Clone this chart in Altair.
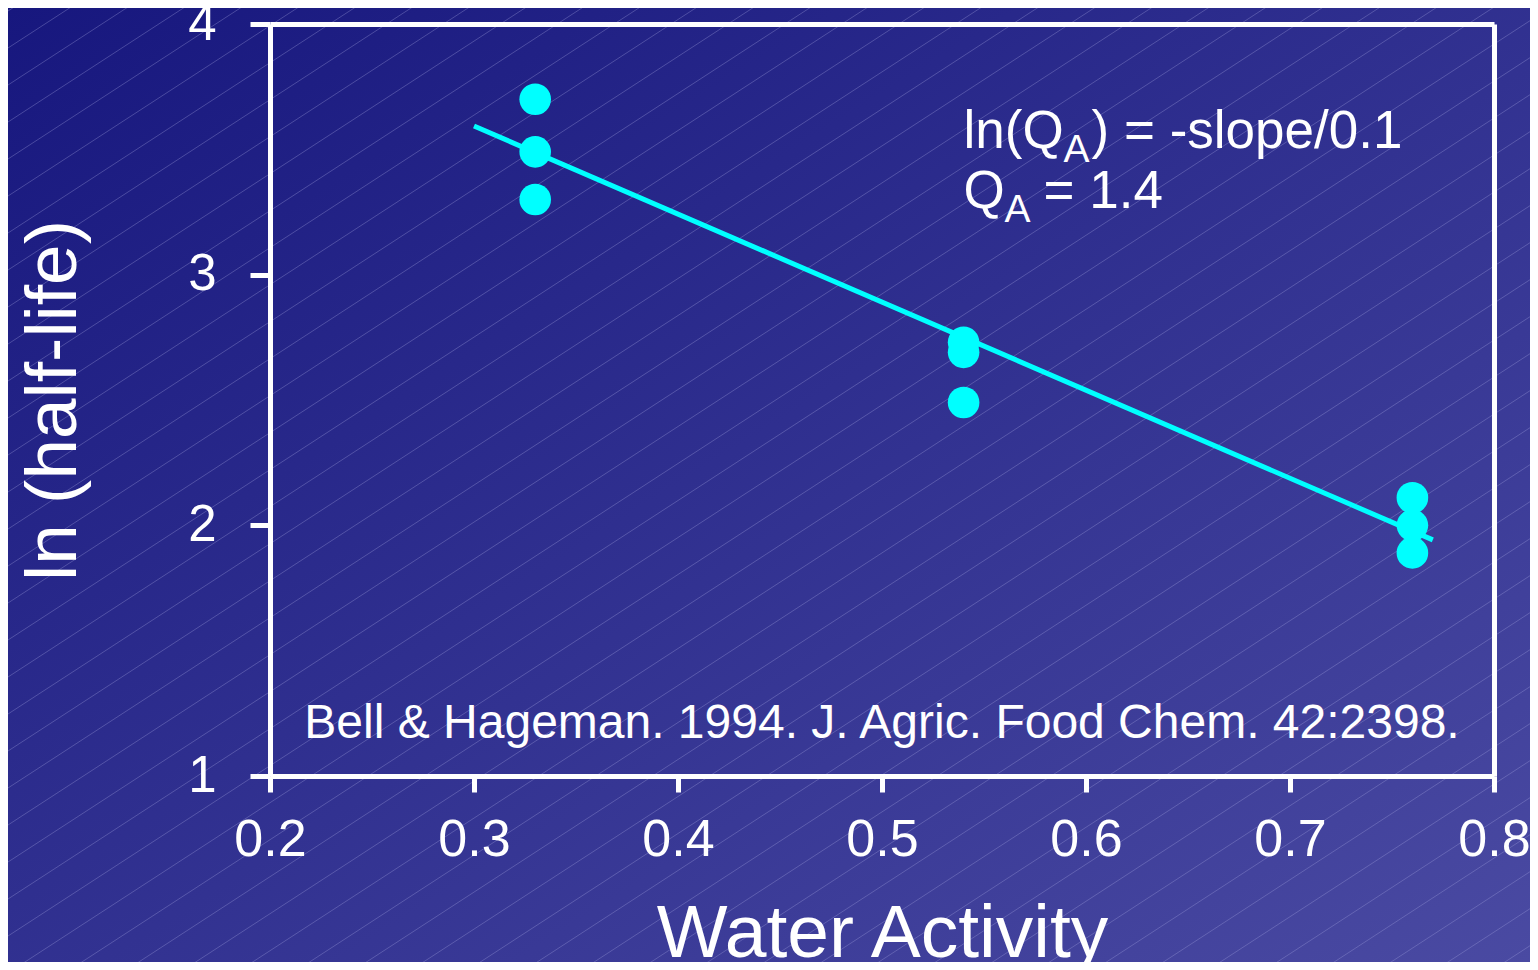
import altair as alt
import pandas as pd

# ---- data ----
water_activity = [0.33, 0.33, 0.33, 0.54, 0.54, 0.54, 0.76, 0.76, 0.76]
ln_half_life = [3.70, 3.49, 3.30, 2.73, 2.69, 2.49, 2.11, 2.00, 1.89]

fit_x = [0.30, 0.77]
fit_y = [3.593, 1.942]

x_ticks = [0.2, 0.3, 0.4, 0.5, 0.6, 0.7, 0.8]
y_ticks = [1, 2, 3, 4]

ann_x = 0.54
ann_line1_y = 3.505
ann_line2_y = 3.266
cite_x = 0.5
cite_y = 1.152
cite_text = "Bell & Hageman. 1994. J. Agric. Food Chem. 42:2398."

FONT = "Liberation Sans"
W, H = 1224, 752
PAD = {"left": 262, "top": 16, "right": 36, "bottom": 186}
FULL_W = W + PAD["left"] + PAD["right"]
FULL_H = H + PAD["top"] + PAD["bottom"]

pts = pd.DataFrame({"aw": water_activity, "lnhl": ln_half_life})
fit = pd.DataFrame({"aw": fit_x, "lnhl": fit_y})

xscale = alt.Scale(domain=[0.2, 0.8], nice=False, zero=False)
yscale = alt.Scale(domain=[1, 4], nice=False, zero=False)

common_axis = dict(
    domainColor="white", domainWidth=5, tickColor="white", tickWidth=5,
    labelColor="white", titleColor="white", labelFont=FONT, titleFont=FONT,
    titleFontWeight="normal", grid=False, zindex=2,
    labelFlush=False, labelOverlap=False, labelBound=False,
)

xaxis = alt.Axis(
    values=x_ticks, format=".1f", title="Water Activity",
    labelFontSize=52, labelPadding=22, tickSize=16,
    titleFontSize=75, titleX=W / 2, titleY=180, titleAlign="center",
    titleBaseline="alphabetic", titleAnchor="middle", **common_axis,
)
yaxis = alt.Axis(
    values=y_ticks, format="d", title="ln (half-life)",
    labelFontSize=51, labelPadding=34, tickSize=20,
    titleFontSize=73, titleAngle=270, titleX=-195, titleY=H / 2,
    titleAlign="center", titleBaseline="alphabetic", titleAnchor="middle",
    **common_axis,
)
frame_x = alt.Axis(orient="top", labels=False, ticks=False, title=None,
                   domainColor="white", domainWidth=5, grid=False, zindex=2)
frame_y = alt.Axis(orient="right", labels=False, ticks=False, title=None,
                   domainColor="white", domainWidth=5, grid=False, zindex=2)

bg = alt.Chart(pd.DataFrame({"k": [0]})).mark_rect(
    color=alt.Gradient(
        gradient="linear",
        stops=[alt.GradientStop(color="#17177e", offset=0),
               alt.GradientStop(color="#4a4aa2", offset=1)],
        x1=0, y1=0, x2=1, y2=1,
    )
).encode(
    x=alt.value(-PAD["left"]), x2=alt.value(W + PAD["right"]),
    y=alt.value(-PAD["top"]), y2=alt.value(H + PAD["bottom"]),
)

# faint diagonal hatching of the slide background (decoration)
hatch = alt.Chart(alt.sequence(0, 56, as_="i")).transform_calculate(
    c=f"3 + 37 * datum.i",
    hx1=f"{-PAD['left']}",
    hx2=f"{FULL_W - PAD['left']}",
    hy1=f"datum.c - {PAD['top']}",
    hy2=f"datum.c - {PAD['top']} - 0.65 * {FULL_W}",
).mark_rule(color="#a0a0dc", strokeWidth=1, opacity=0.35).encode(
    x=alt.X("hx1:Q", scale=None, axis=None),
    x2="hx2:Q",
    y=alt.Y("hy1:Q", scale=None, axis=None),
    y2="hy2:Q",
)

frame = alt.Chart(fit).mark_point(opacity=0).encode(
    x=alt.X("aw:Q", scale=xscale, axis=frame_x),
    y=alt.Y("lnhl:Q", scale=yscale, axis=frame_y),
)

line = alt.Chart(fit).mark_line(color="#00ffff", strokeWidth=5).encode(
    x=alt.X("aw:Q", scale=xscale, axis=xaxis),
    y=alt.Y("lnhl:Q", scale=yscale, axis=yaxis),
)

points = alt.Chart(pts).mark_circle(color="#00ffff", opacity=1, size=1000).encode(
    x=alt.X("aw:Q", scale=xscale, axis=None),
    y=alt.Y("lnhl:Q", scale=yscale, axis=None),
)


def txt(s, x, y, size, dx=0, dy=0, align="left"):
    return alt.Chart(pd.DataFrame({"t": [s], "x": [x], "y": [y]})).mark_text(
        color="white", font=FONT, fontSize=size, align=align,
        baseline="alphabetic", dx=dx, dy=dy,
    ).encode(
        x=alt.X("x:Q", scale=xscale, axis=None),
        y=alt.Y("y:Q", scale=yscale, axis=None),
        text="t:N",
    )


ann = [
    txt("ln(Q", ann_x, ann_line1_y, 53),
    txt("A", ann_x, ann_line1_y, 39, dx=100, dy=14),
    txt(") = -slope/0.1", ann_x, ann_line1_y, 53, dx=128),
    txt("Q", ann_x, ann_line2_y, 53),
    txt("A", ann_x, ann_line2_y, 39, dx=41, dy=14),
    txt("= 1.4", ann_x, ann_line2_y, 53, dx=80),
    txt(cite_text, cite_x, cite_y, 48, align="center"),
]

chart = alt.layer(bg, hatch, frame, line, points, *ann).resolve_axis(
    x="independent", y="independent"
).properties(
    width=W, height=H,
    autosize=alt.AutoSizeParams(type="none"),
    padding=PAD,
    background="#30308f",
).configure_view(
    stroke=None, fill=None,
)

chart.save("out.html", embed_options={"renderer": "svg", "actions": False})
